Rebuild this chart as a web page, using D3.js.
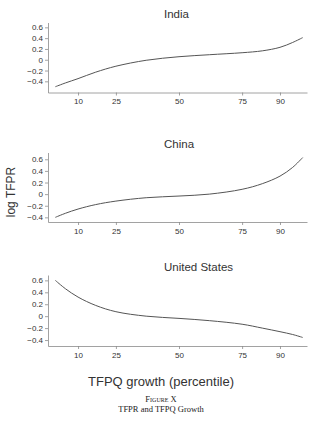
<!DOCTYPE html>
<html lang="en">
    <head>
        <meta charset="utf-8">
        <title>TFPR and TFPQ Growth</title>
        <script src="https://cdn.jsdelivr.net/npm/d3@7"></script>
        <style>
            body { margin: 0; background: #fff; }
            text { font-family: "Liberation Sans", Arial, sans-serif; fill: #333; }
        </style>
    </head>
    <body>
        <script>
            //Width and height
            var w = 311;
            var h = 421;

            //Data
            var countries = ["India", "China", "United States"];
            var percentiles = [1, 5, 10, 17, 25, 37, 50, 62, 75, 83, 90, 95, 99];
            var india = [-0.50, -0.43, -0.35, -0.23, -0.12, -0.01, 0.056, 0.093, 0.13, 0.165, 0.23, 0.32, 0.41];
            var china = [-0.40, -0.33, -0.257, -0.18, -0.12, -0.062, -0.033, 0.0, 0.083, 0.18, 0.31, 0.46, 0.63];
            var usa = [0.60, 0.46, 0.32, 0.18, 0.075, 0.0, -0.037, -0.075, -0.135, -0.2, -0.26, -0.307, -0.357];
            var xTicks = [10, 25, 50, 75, 90];
            var yTicks = [-0.4, -0.2, 0, 0.2, 0.4, 0.6];

            var series = [india, china, usa];

            //Panel layout (pixel frame + y extent of each panel)
            var panels = [
                { top: 22.5, bottom: 92.5, ymin: -0.607, ymax: 0.69 },
                { top: 152.5, bottom: 222, ymin: -0.48, ymax: 0.717 },
                { top: 275, bottom: 346, ymin: -0.5, ymax: 0.69 }
            ];

            var svg = d3.select("body")
                        .append("svg")
                        .attr("width", w)
                        .attr("height", h);

            var x = d3.scaleLinear().domain([-1.9, 100.7]).range([48, 307]);

            var yFormat = function(d) { return d === 0 ? "0" : d3.format(".1f")(d); };

            panels.forEach(function(p, i) {
                var y = d3.scaleLinear().domain([p.ymin, p.ymax]).range([p.bottom, p.top]);

                var g = svg.append("g");

                // y axis
                var ya = g.append("g")
                    .attr("transform", "translate(" + x.range()[0] + ",0)")
                    .call(d3.axisLeft(y).tickValues(yTicks).tickFormat(yFormat)
                        .tickSize(3).tickSizeOuter(0).tickPadding(2));

                // x axis
                var xa = g.append("g")
                    .attr("transform", "translate(0," + p.bottom + ")")
                    .call(d3.axisBottom(x).tickValues(xTicks)
                        .tickSize(3).tickSizeOuter(0).tickPadding(3));

                [ya, xa].forEach(function(a) {
                    a.selectAll("path, line").attr("stroke", "#8a8a8a").attr("stroke-width", 0.8);
                    a.selectAll("text")
                        .attr("font-family", "Liberation Sans, Arial, sans-serif")
                        .attr("font-size", 8)
                        .attr("fill", "#333");
                });

                // curve
                g.append("path")
                    .datum(percentiles.map(function(pc, j) { return [pc, series[i][j]]; }))
                    .attr("fill", "none")
                    .attr("stroke", "#555")
                    .attr("stroke-width", 1)
                    .attr("d", d3.line()
                        .x(function(d) { return x(d[0]); })
                        .y(function(d) { return y(d[1]); })
                        .curve(d3.curveCatmullRom.alpha(0.5)));

                // panel title
                g.append("text")
                    .text(countries[i])
                    .attr("x", 164)
                    .attr("y", p.top - 4.5)
                    .attr("font-size", 11.5)
                    .attr("fill", "#333");
            });

            // y label
            svg.append("text")
                .text("log TFPR")
                .attr("transform", "translate(15,192) rotate(-90)")
                .attr("text-anchor", "middle")
                .attr("font-size", 12)
                .attr("fill", "#333");

            // x label
            svg.append("text")
                .text("TFPQ growth (percentile)")
                .attr("x", 161)
                .attr("y", 386)
                .attr("text-anchor", "middle")
                .attr("font-size", 13)
                .attr("fill", "#333");

            // caption
            svg.append("text")
                .text("Figure X")
                .attr("x", 161)
                .attr("y", 402)
                .attr("text-anchor", "middle")
                .attr("font-size", 8.5)
                .attr("font-variant", "small-caps")
                .style("font-family", "Liberation Serif, serif")
                .style("fill", "#222");

            svg.append("text")
                .text("TFPR and TFPQ Growth")
                .attr("x", 161)
                .attr("y", 412)
                .attr("text-anchor", "middle")
                .attr("font-size", 8.5)
                .style("font-family", "Liberation Serif, serif")
                .style("fill", "#222");
        </script>
    </body>
</html>
